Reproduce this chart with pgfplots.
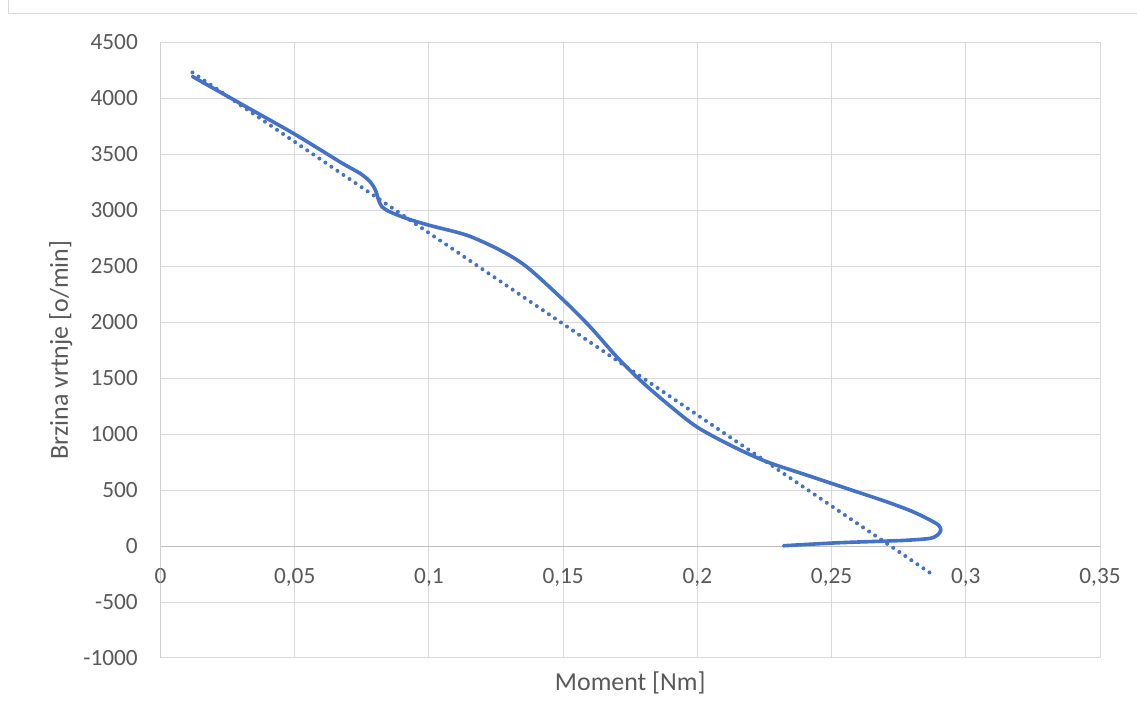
\documentclass[border=0pt]{standalone}
\usepackage{pgfplots}
\pgfplotsset{compat=1.18}
\usepackage{fontspec}
\setmainfont{Carlito}
\definecolor{serblue}{HTML}{4472C4}
\definecolor{gridc}{HTML}{D9D9D9}
\definecolor{axc}{HTML}{BFBFBF}
\definecolor{txt}{HTML}{595959}
\begin{document}
\begin{tikzpicture}[x=1bp,y=1bp]
\useasboundingbox (0,0) rectangle (1137,718);
\draw[gridc, line width=1bp] (8.5,718) -- (8.5,704.5) -- (1137,704.5);
\begin{axis}[
  at={(160.5bp,60bp)}, anchor=south west,
  width=939.5bp, height=615.5bp, scale only axis,
  xmin=0, xmax=0.35, ymin=-1000, ymax=4500,
  xtick={0,0.05,0.1,0.15,0.2,0.25,0.3,0.35},
  xticklabels={0,{0,05},{0,1},{0,15},{0,2},{0,25},{0,3},{0,35}},
  ytick={-1000,-500,0,500,1000,1500,2000,2500,3000,3500,4000,4500},
  yticklabels={-1000,-500,0,500,1000,1500,2000,2500,3000,3500,4000,4500},
  axis line style={draw=none},
  major tick length=0pt,
  grid=major,
  grid style={gridc, line width=1bp},
  tick label style={font=\fontsize{23.3bp}{28bp}\selectfont, text=txt, inner sep=0pt},
  xticklabel style={anchor=north, yshift=90bp},
  yticklabel style={anchor=east, xshift=-22.5bp},
  xlabel={Moment [Nm]},
  xlabel style={at={(axis description cs:0.5,-0.052)}, anchor=base, font=\fontsize{25.9bp}{30bp}\selectfont, text=txt, inner sep=0pt},
  ylabel={Brzina vrtnje [o/min]},
  ylabel style={at={(axis description cs:-0.0985,0.5)}, anchor=base, font=\fontsize{25.9bp}{30bp}\selectfont, text=txt, inner sep=0pt},
]
\draw[axc, line width=1bp] (axis cs:0,0) -- (axis cs:0.35,0);
\draw[axc, line width=1bp] (axis cs:0,-1000) -- (axis cs:0,4500);
\addplot[serblue, line width=3.6bp, line join=round, line cap=round, smooth, tension=0.5] coordinates {
(0.0119,4196)
(0.0300,3951)
(0.0497,3685)
(0.0670,3431)
(0.0745,3328)
(0.0782,3253)
(0.0801,3179)
(0.0813,3089)
(0.0826,3030)
(0.0856,2985)
(0.0919,2926)
(0.1002,2866)
(0.1142,2777)
(0.1266,2643)
(0.1365,2494)
(0.1502,2196)
(0.1601,1958)
(0.1700,1690)
(0.1787,1482)
(0.1887,1274)
(0.1998,1065)
(0.2135,887)
(0.2259,753)
(0.2400,640)
(0.2550,520)
(0.2700,400)
(0.2800,310)
(0.2865,235)
(0.2898,188)
(0.2907,143)
(0.2895,100)
(0.2867,69)
(0.2780,52)
(0.2706,45)
(0.2519,29)
(0.2321,3)
};
\addplot[serblue, line width=4bp, line cap=round, dash pattern=on 0bp off 7.3bp] coordinates {
(0.0119,4232) (0.2879,-259)
};
\end{axis}
\end{tikzpicture}
\end{document}
